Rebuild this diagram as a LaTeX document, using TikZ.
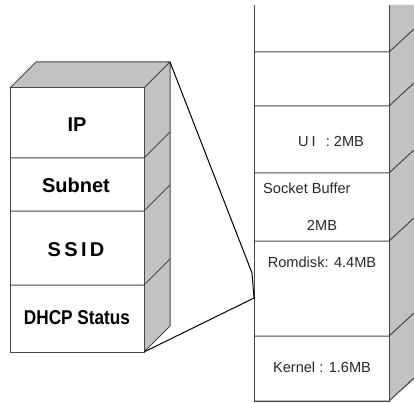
\documentclass[tikz,border=0pt]{standalone}
\usepackage{fontspec}
\setmainfont{Liberation Sans}
\definecolor{sidegray}{RGB}{194,194,194}
\definecolor{edge}{RGB}{70,70,70}
\definecolor{txt}{RGB}{40,40,40}
\begin{document}
\begin{tikzpicture}[x=1pt,y=-1pt,
  edgeline/.style={draw=edge,line width=1pt},
  facegray/.style={fill=sidegray,draw=edge,line width=1pt,line join=round},
  biglabel/.style={font=\fontsize{20}{22}\selectfont\bfseries,text=black,inner sep=0pt},
  smalllabel/.style={font=\fontsize{14.6}{16}\selectfont,text=txt,inner sep=0pt}]
\useasboundingbox (0,0) rectangle (414,403);
% ---------------- left box ----------------
\coordinate (LTfl) at (10,88);
\coordinate (LTfr) at (144,88);
\coordinate (LTbl) at (36,62);
\coordinate (LTbr) at (170,62);
\coordinate (LBfl) at (10,352);
\coordinate (LBfr) at (144,352);
\coordinate (LBbr) at (170,326);
\filldraw[facegray] (LTfl) -- (LTbl) -- (LTbr) -- (LTfr) -- cycle;
\filldraw[facegray] (LTfr) -- (LTbr) -- (LBbr) -- (LBfr) -- cycle;
\draw[edgeline,fill=white] (LTfl) rectangle (LBfr);
\foreach \y in {158,211,285}{
  \draw[edgeline] (10,\y) -- (144,\y) -- (170,\y-26);
}
\node[biglabel] (ip) at (77,125) {IP};
\node[biglabel] (subnet) at (76,185) {Subnet};
\node[biglabel] (ssid) at (76,250) {S\,S\,I\,D};
\node[biglabel,xscale=0.86] (dhcp) at (77,318) {DHCP Status};
% ---------------- right stack ----------------
\coordinate (Rtl) at (254,5);
\coordinate (Rtr) at (389,5);
\coordinate (Rbl) at (254,401);
\coordinate (Rbr) at (389,401);
\fill[sidegray] (389,5) -- (414,5) -- (414,380) -- (389,401) -- cycle;
\draw[edgeline] (Rtl) -- (Rbl) -- (Rbr) -- (Rtr);
\foreach \y in {52,106,173,241,336,401}{
  \draw[edgeline] (254,\y) -- (389,\y) -- (414,\y-23);
}
\node[smalllabel,anchor=west] (ui) at (298,141) {U\hspace{3pt}I\hspace{10pt}: 2MB};
\node[smalllabel,anchor=west] (sock) at (263,188) {Socket Buffer};
\node[smalllabel] (sock2) at (322,225) {2MB};
\node[smalllabel] (rom) at (322,262) {Romdisk: 4.4MB};
\node[smalllabel] (kern) at (322,367) {Kernel : 1.6MB};
% ---------------- zoom connectors ----------------
\coordinate (Rk1) at (252,273);
\coordinate (Rk2) at (254,298);
\draw[line width=1pt,black,line join=round] (LTbr) -- (Rk1) -- (Rk2) -- (LBfr);
\end{tikzpicture}
\end{document}
